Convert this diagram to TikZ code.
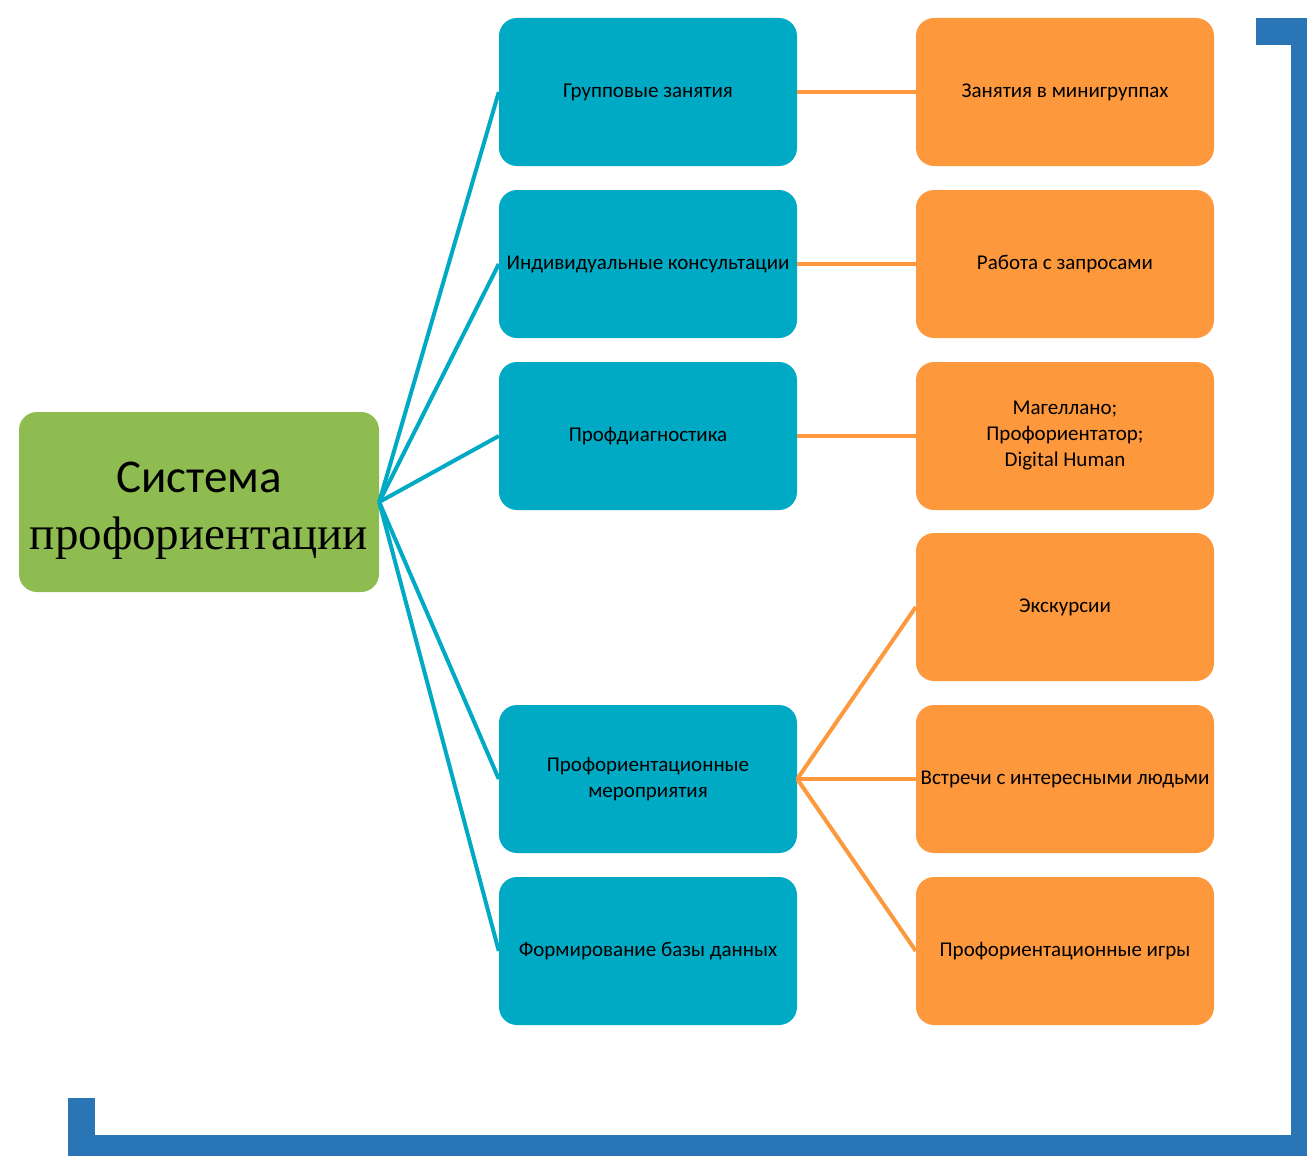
\documentclass[tikz,border=0pt]{standalone}
\usepackage{fontspec}
\setmainfont{Carlito}
\newfontfamily\titleserif{Liberation Serif}
\definecolor{boxblue}{RGB}{0,170,197}
\definecolor{boxorange}{RGB}{253,152,60}
\definecolor{boxgreen}{RGB}{143,188,81}
\definecolor{framebl}{RGB}{41,117,182}
\tikzset{
	item/.style={rounded corners=18pt, minimum width=298pt, minimum height=148pt, inner sep=0pt, align=center, font=\fontsize{21}{26}\selectfont},
	bluebox/.style={item, fill=boxblue},
	orangebox/.style={item, fill=boxorange},
	blueline/.style={line width=4pt, draw=boxblue},
	orangeline/.style={line width=4pt, draw=boxorange}
}
\begin{document}
\begin{tikzpicture}[x=1pt, y=-1pt]
		\useasboundingbox (0,0) rectangle (1307,1156);
		% frame
		\fill[framebl] (1256,18) rectangle (1307,45);
		\fill[framebl] (1291,18) rectangle (1307,1156);
		\fill[framebl] (68,1135) rectangle (1307,1156);
		\fill[framebl] (68,1098) rectangle (95,1156);
		% root
		\node[rounded corners=18pt, fill=boxgreen, minimum width=360pt, minimum height=180pt, inner sep=0pt] (root) at (199,502) {};
		\node[align=center, inner sep=0pt, font=\fontsize{47}{57}\selectfont] (roottitle) at ([yshift=-9pt]root.center)
		{Система\\ {\titleserif профориентации}};
		% first level
		\node[bluebox] (group) at (648,92) {Групповые занятия};
		\node[bluebox] (indiv) at (648,264) {Индивидуальные консультации};
		\node[bluebox] (diag) at (648,436) {Профдиагностика};
		\node[bluebox] (events) at (648,779) {Профориентационные\\ мероприятия};
		\node[bluebox] (base) at (648,951) {Формирование базы данных};
		% second level
		\node[orangebox] (mini) at (1065,92) {Занятия в минигруппах};
		\node[orangebox] (requests) at (1065,264) {Работа с запросами};
		\node[orangebox] (tests) at (1065,436) {Магеллано;\\ Профориентатор;\\ Digital Human};
		\node[orangebox] (trips) at (1065,607) {Экскурсии};
		\node[orangebox] (meet) at (1065,779) {Встречи с интересными людьми};
		\node[orangebox] (games) at (1065,951) {Профориентационные игры};
		% links
		\foreach \n in {group,indiv,diag,events,base}
		\draw[blueline] (root.east) -- (\n.west);
		\draw[orangeline] (group.east) -- (mini.west);
		\draw[orangeline] (indiv.east) -- (requests.west);
		\draw[orangeline] (diag.east) -- (tests.west);
		\foreach \n in {trips,meet,games}
		\draw[orangeline] (events.east) -- (\n.west);
\end{tikzpicture}
\end{document}
